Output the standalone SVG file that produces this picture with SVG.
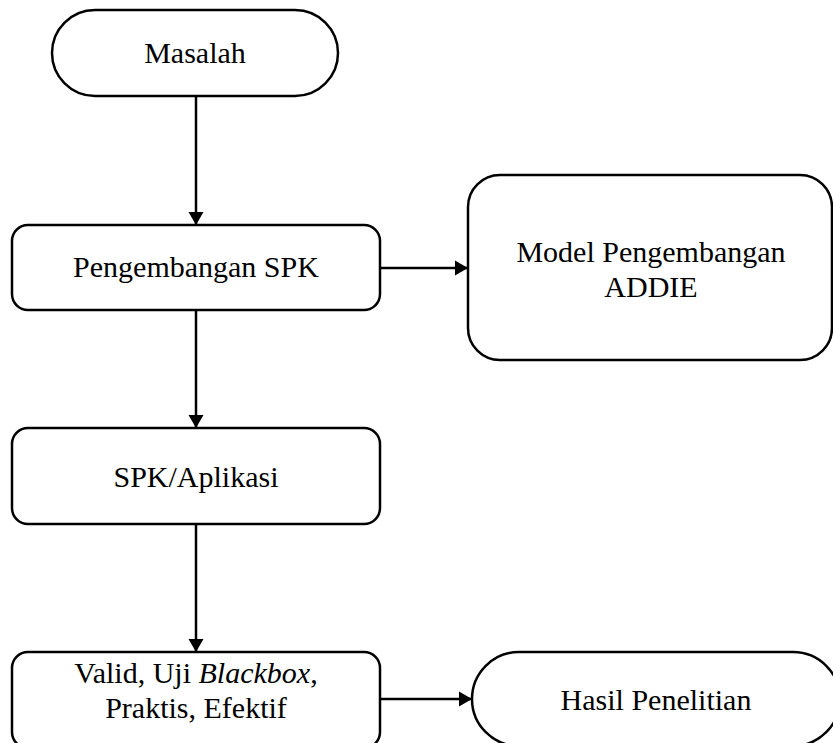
<svg xmlns="http://www.w3.org/2000/svg" width="833" height="743" viewBox="0 0 833 743">
<style>
.box{fill:#fff;stroke:#000;stroke-width:2.5}
.con{stroke:#000;stroke-width:2.5;fill:none;marker-end:url(#arr)}
</style>
<defs>
<marker id="arr" markerUnits="userSpaceOnUse" markerWidth="14" markerHeight="16" refX="13" refY="7.5" orient="auto" viewBox="0 0 14 15">
<path d="M0,0 L13,7.5 L0,15 z" fill="#000"/>
</marker>
</defs>
<rect width="833" height="743" fill="#fff"/>
<g id="connectors">
<line class="con" x1="196" y1="96" x2="196" y2="225"/>
<line class="con" x1="196" y1="310" x2="196" y2="428"/>
<line class="con" x1="196" y1="524" x2="196" y2="652"/>
<line class="con" x1="380" y1="268" x2="468" y2="268"/>
<line class="con" x1="380" y1="699" x2="472" y2="699"/>
</g>
<g font-family="Liberation Serif, Times New Roman, DejaVu Serif, serif" font-size="30" fill="#000" text-anchor="middle">
<g id="masalah">
<rect class="box" x="52" y="10" width="286" height="86" rx="43" ry="43"/>
<text x="195" y="63">Masalah</text>
</g>
<g id="pengembangan">
<rect class="box" x="12" y="225" width="368" height="85" rx="16" ry="16"/>
<text x="196" y="277">Pengembangan SPK</text>
</g>
<g id="addie">
<rect class="box" x="468" y="175" width="364" height="185" rx="32" ry="32"/>
<text x="651" y="262">Model Pengembangan</text>
<text x="651" y="297">ADDIE</text>
</g>
<g id="aplikasi">
<rect class="box" x="12" y="428" width="368" height="96" rx="16" ry="16"/>
<text x="196" y="487">SPK/Aplikasi</text>
</g>
<g id="valid">
<rect class="box" x="12" y="652" width="368" height="96" rx="16" ry="16"/>
<text x="196" y="683">Valid, Uji <tspan font-style="italic">Blackbox</tspan>,</text>
<text x="196" y="718">Praktis, Efektif</text>
</g>
<g id="hasil">
<rect class="box" x="472" y="652" width="368" height="94" rx="47" ry="47"/>
<text x="656" y="710">Hasil Penelitian</text>
</g>
</g>
</svg>
